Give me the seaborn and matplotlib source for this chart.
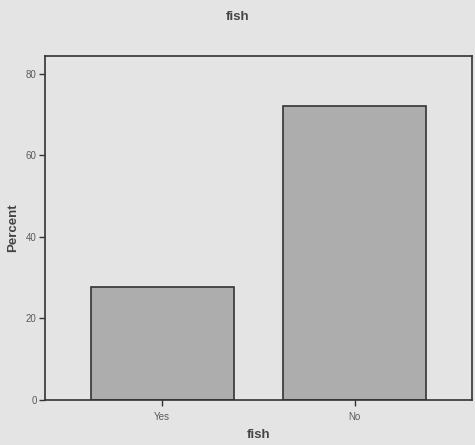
import matplotlib
matplotlib.use("Agg")
import matplotlib.pyplot as plt
import seaborn as sns
import pandas as pd

categories = ["Yes", "No"]
percent = [27.8, 72.2]
y_ticks = [0, 20, 40, 60, 80]

df = pd.DataFrame({"fish": categories, "Percent": percent})

sns.set_style("white")
plt.rcParams["font.family"] = ["Liberation Sans", "DejaVu Sans"]

bg = "#e4e4e4"
fig = plt.figure(figsize=(4.75, 4.45), dpi=100, facecolor=bg)
ax = fig.add_axes([0.0947, 0.1011, 0.8990, 0.7730])
ax.set_facecolor(bg)

sns.barplot(data=df, x="fish", y="Percent", order=categories, color="#adadad",
            width=0.745, edgecolor="#333333", linewidth=1.2, saturation=1,
            ax=ax, errorbar=None)

ax.set_xlim(-0.61, 1.61)
ax.set_ylim(0, 84.4)
ax.set_yticks(y_ticks)
ax.set_yticklabels([str(t) for t in y_ticks])

for s in ax.spines.values():
    s.set_visible(True)
    s.set_color("#333333")
    s.set_linewidth(1.2)

ax.tick_params(axis="both", which="major", direction="out", length=4.5, width=1,
               color="#333333", labelsize=7, labelcolor="#5a5a5a",
               left=True, bottom=True)
ax.tick_params(axis="x", pad=4)
ax.tick_params(axis="y", pad=1.5)

ax.set_xlabel("fish", fontsize=9.5, fontweight="bold", color="#444444", labelpad=5)
ax.set_ylabel("Percent", fontsize=9.5, fontweight="bold", color="#444444", labelpad=5)
fig.text(0.5, 0.962, "fish", ha="center", va="center", fontsize=9.5,
         fontweight="bold", color="#444444")

fig.savefig("out.png", dpi=100, facecolor=bg)
